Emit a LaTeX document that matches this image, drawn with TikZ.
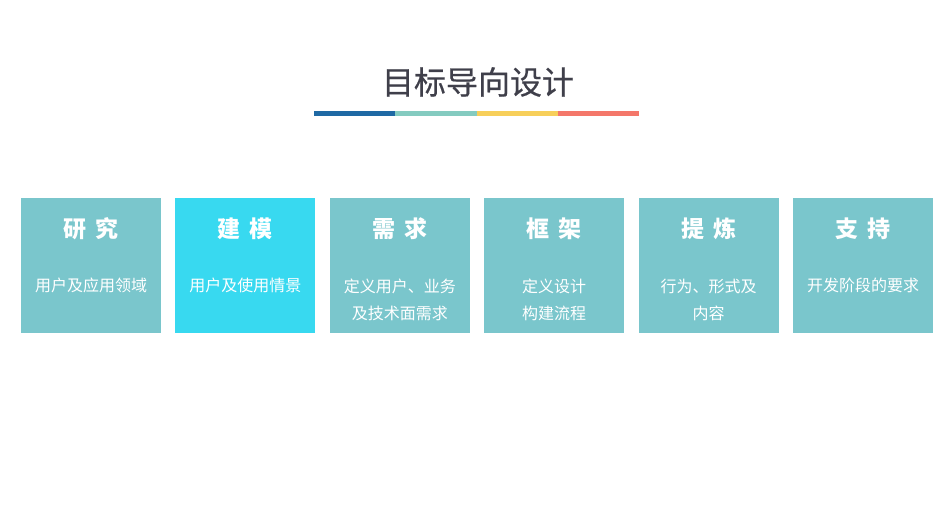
\documentclass[tikz,border=0pt]{standalone}
\usepackage{fontspec}
\setmainfont{Noto Sans CJK SC}
\newfontfamily\titlefont[FakeBold=0.5]{Noto Sans CJK SC}
\usetikzlibrary{positioning}

\definecolor{titlegray}{HTML}{3F3F4A}
\definecolor{barblue}{HTML}{1F69A4}
\definecolor{barteal}{HTML}{84CBC0}
\definecolor{baryellow}{HTML}{F7CF5A}
\definecolor{barred}{HTML}{F4776A}
\definecolor{stageteal}{HTML}{7AC6CC}
\definecolor{stagecyan}{HTML}{38D9F0}

\tikzset{
    stage/.style={minimum width=140pt, minimum height=135pt, inner sep=0pt},
    stagehead/.style={text=white, inner sep=0pt, font=\fontsize{23}{27}\selectfont\bfseries},
    stagesub/.style={text=white, inner sep=0pt, align=center, font=\fontsize{16}{27}\selectfont},
}

\begin{document}
\begin{tikzpicture}[x=1pt, y=-1pt]
    \useasboundingbox (0,0) rectangle (949,522);

    % Title and the four coloured bar pieces
    \node[text=titlegray, font=\titlefont\fontsize{32}{36}\selectfont, inner sep=0pt] (title) at (478,82) {目标导向设计};
    \coordinate (bar0) at (314,113);
    \coordinate (bar1) at (395.25,113);
    \coordinate (bar2) at (476.5,113);
    \coordinate (bar3) at (557.75,113);
    \coordinate (bar4) at (639,113);
    \draw[line width=5pt, barblue] (bar0) -- (bar1);
    \draw[line width=5pt, barteal] (bar1) -- (bar2);
    \draw[line width=5pt, baryellow] (bar2) -- (bar3);
    \draw[line width=5pt, barred] (bar3) -- (bar4);

    % Six stages, one box each
    \foreach \i/\col/\head/\sub/\dy in {
        1/stageteal/{研\hspace{9pt}究}/{用户及应用领域}/87,
        2/stagecyan/{建\hspace{9pt}模}/{用户及使用情景}/87,
        3/stageteal/{需\hspace{9pt}求}/{定义用户、业务\\及技术面需求}/101.5,
        4/stageteal/{框\hspace{9pt}架}/{定义设计\\构建流程}/101.5,
        5/stageteal/{提\hspace{9pt}炼}/{行为、形式及\\内容}/101.5,
        6/stageteal/{支\hspace{9pt}持}/{开发阶段的要求}/87}
    {
        \node[stage, fill=\col, anchor=north] (box\i) at ({91+(\i-1)*154.4},198) {};
        \node[stagehead] (head\i) at ([yshift=-31pt]box\i.north) {\head};
        \node[stagesub] (sub\i) at ([yshift=-\dy pt]box\i.north) {\sub};
    }
\end{tikzpicture}
\end{document}
